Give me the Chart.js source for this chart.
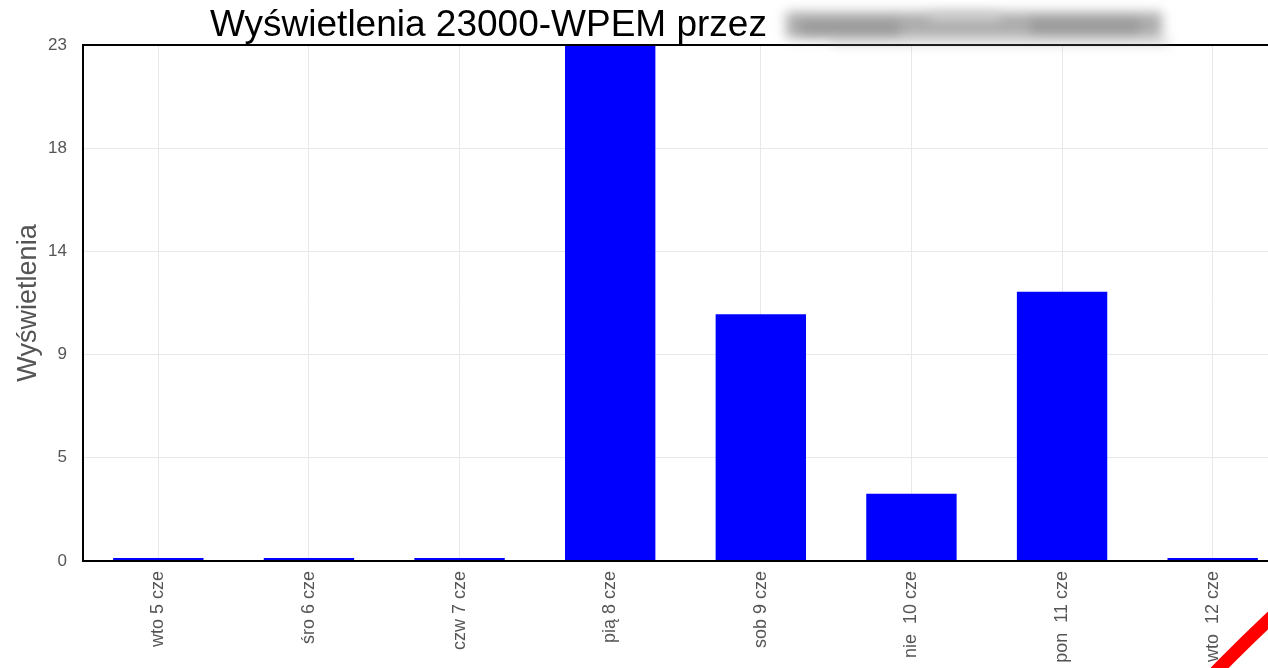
<!DOCTYPE html>
<html>
<head>
<meta charset="utf-8">
<script src="https://cdn.jsdelivr.net/npm/chart.js@4/dist/chart.umd.min.js"></script>
<style>
  html, body { margin: 0; padding: 0; background: #fff; overflow: hidden; }
  #wrap { width: 1290px; height: 680px; }
</style>
</head>
<body>
<div id="wrap"><canvas id="c" width="1290" height="680"></canvas></div>
<script>
const categories = ['wto 5 cze', 'śro 6 cze', 'czw 7 cze', 'pią 8 cze', 'sob 9 cze', 'nie  10 cze', 'pon  11 cze', 'wto  12 cze'];
const views = [0, 0, 0, 23, 11, 3, 12, 0];
const yTickValues = [0, 4.6, 9.2, 13.8, 18.4, 23];
const yTickLabels = ['0', '5', '9', '14', '18', '23'];
const titleText = 'Wyświetlenia 23000-WPEM przez';
const yAxisTitle = 'Wyświetlenia';

const FONT = "'Liberation Sans', Arial, Helvetica, sans-serif";

const decorPlugin = {
  id: 'decor',
  afterDraw(chart) {
    const ctx = chart.ctx;
    const a = chart.chartArea;
    ctx.save();
    // top frame line
    ctx.strokeStyle = '#000';
    ctx.lineWidth = 2;
    ctx.beginPath();
    ctx.moveTo(a.left - 1, a.top);
    ctx.lineTo(a.right, a.top);
    ctx.stroke();
    // title text
    ctx.fillStyle = '#000';
    ctx.font = '37px ' + FONT;
    ctx.textBaseline = 'alphabetic';
    ctx.textAlign = 'left';
    ctx.fillText(titleText, 210, 36);
    // redacted (blurred) part
    ctx.filter = 'blur(6px)';
    ctx.fillStyle = 'rgba(160,160,160,0.85)';
    ctx.fillRect(786, 12, 376, 26);
    ctx.fillStyle = 'rgba(135,135,135,0.6)';
    ctx.fillRect(800, 22, 100, 12);
    ctx.fillRect(1030, 20, 110, 12);
    ctx.fillStyle = 'rgba(215,215,215,0.8)';
    ctx.fillRect(930, 12, 70, 8);
    ctx.fillStyle = 'rgba(140,140,140,0.5)';
    ctx.fillRect(830, 40, 340, 4);
    ctx.filter = 'none';
    // red stroke bottom-right
    ctx.strokeStyle = '#ff0000';
    ctx.lineWidth = 13;
    ctx.lineCap = 'butt';
    ctx.beginPath();
    ctx.moveTo(1204, 684);
    ctx.quadraticCurveTo(1242, 644, 1292, 598);
    ctx.stroke();
    ctx.restore();
  }
};

new Chart(document.getElementById('c'), {
  type: 'bar',
  data: {
    labels: categories,
    datasets: [{
      label: yAxisTitle,
      data: views,
      backgroundColor: '#0000ff',
      borderWidth: 0,
      barPercentage: 0.6,
      categoryPercentage: 1.0,
      minBarLength: 3
    }]
  },
  options: {
    responsive: false,
    animation: false,
    devicePixelRatio: 1,
    layout: { padding: { top: 45, right: 2, left: 0, bottom: 0 } },
    plugins: {
      legend: { display: false },
      title: { display: false },
      tooltip: { enabled: false }
    },
    scales: {
      x: {
        grid: { color: '#e8e8e8', lineWidth: 1, offset: false, drawTicks: false },
        border: { color: '#000', width: 2, z: 1 },
        ticks: {
          autoSkip: false, maxRotation: 90, minRotation: 90,
          padding: 10, color: '#555',
          font: { family: FONT, size: 18 }
        },
        afterFit(scale) { scale.height = 680 - 561; }
      },
      y: {
        min: 0, max: 23,
        afterBuildTicks(scale) { scale.ticks = yTickValues.map(v => ({ value: v })); },
        grid: { color: '#e8e8e8', lineWidth: 1, drawTicks: false },
        border: { color: '#000', width: 2, z: 1 },
        ticks: {
          padding: 16, color: '#555',
          font: { family: FONT, size: 17 },
          callback(value, index) { return yTickLabels[index]; }
        },
        title: {
          display: true, text: yAxisTitle, color: '#555',
          font: { family: FONT, size: 27 },
          padding: { top: 12, bottom: 0 }
        },
        afterFit(scale) { scale.width = 83; }
      }
    }
  },
  plugins: [decorPlugin]
});
</script>
</body>
</html>
